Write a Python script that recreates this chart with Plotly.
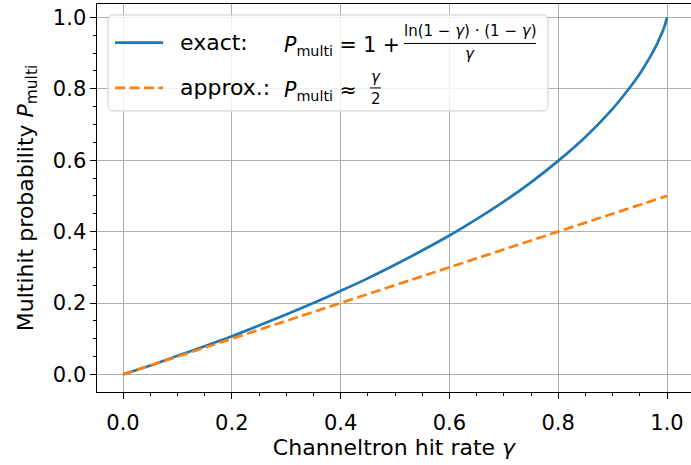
import plotly.graph_objects as go

# Data
gamma_exact = [0.0, 0.05, 0.1, 0.15, 0.2, 0.25, 0.3, 0.35, 0.4, 0.45, 0.5, 0.55, 0.6,
               0.65, 0.7, 0.75, 0.8, 0.85, 0.9, 0.93, 0.95, 0.97, 0.98, 0.99, 0.995, 1.0]
p_exact = [0.0, 0.025, 0.052, 0.079, 0.107, 0.137, 0.168, 0.200, 0.234, 0.269, 0.307, 0.347, 0.389,
           0.435, 0.484, 0.538, 0.598, 0.665, 0.744, 0.800, 0.842, 0.892, 0.920, 0.954, 0.973, 1.0]
gamma_approx = [0.0, 0.2, 0.4, 0.6, 0.8, 1.0]
p_approx = [0.0, 0.1, 0.2, 0.3, 0.4, 0.5]
tick_vals = [0.0, 0.2, 0.4, 0.6, 0.8, 1.0]
tick_text = ["0.0", "0.2", "0.4", "0.6", "0.8", "1.0"]

BLUE = "#1f77b4"
ORANGE = "#ff7f0e"
FONT = "DejaVu Sans"
FS = 21
FT = 22

W, H = 691, 465
L, R, T, B = 97, 691, 4, 392.3


def px(x):
    return (x - L) / (R - L)


def py(y):
    return (B - y) / (B - T)


fig = go.Figure()
fig.add_trace(go.Scatter(x=gamma_exact, y=p_exact, mode="lines", line_shape="spline",
                         line=dict(color=BLUE, width=2.7), showlegend=False))
fig.add_trace(go.Scatter(x=gamma_approx, y=p_approx, mode="lines",
                         line=dict(color=ORANGE, width=2.7, dash="10px,4.5px"), showlegend=False))

x0, xs = 123, 544
y0, ys = 374.7, 357.3

axis_common = dict(
    showline=True, linecolor="black", linewidth=1.1,
    ticks="outside", ticklen=5.5, tickwidth=1.1, tickcolor="black",
    showgrid=True, gridcolor="#b0b0b0", gridwidth=1,
    zeroline=False, tickvals=tick_vals, ticktext=tick_text,
    tickfont=dict(family=FONT, size=FS, color="black"),
    minor=dict(dtick=0.05, ticks="outside", ticklen=3, tickwidth=0.9, tickcolor="black", showgrid=False),
)

fig.update_layout(
    width=W, height=H,
    margin=dict(l=L, r=W - R, t=T, b=H - B),
    plot_bgcolor="white", paper_bgcolor="white",
    font=dict(family=FONT, size=FS, color="black"),
    xaxis=dict(range=[(L - x0) / xs, (R - x0) / xs], mirror=True, ticklabelstandoff=6,
               title=dict(text="Channeltron hit rate <i>γ</i>", standoff=5,
                          font=dict(family=FONT, size=FT)),
               **axis_common),
    yaxis=dict(range=[(y0 - B) / ys, (y0 - T) / ys],
               title=dict(text="Multihit probability <i>P</i><sub>multi</sub>", standoff=13,
                          font=dict(family=FONT, size=FT)),
               **axis_common),
)

# Legend box (rounded corners)
bx0, bx1, by0, by1, rr = 108, 548, 15, 111, 5


def P(x, y):
    return f"{px(x):.5f},{py(y):.5f}"


path = (f"M {P(bx0 + rr, by0)} L {P(bx1 - rr, by0)} Q {P(bx1, by0)} {P(bx1, by0 + rr)} "
        f"L {P(bx1, by1 - rr)} Q {P(bx1, by1)} {P(bx1 - rr, by1)} "
        f"L {P(bx0 + rr, by1)} Q {P(bx0, by1)} {P(bx0, by1 - rr)} "
        f"L {P(bx0, by0 + rr)} Q {P(bx0, by0)} {P(bx0 + rr, by0)} Z")
fig.add_shape(type="path", xref="paper", yref="paper", path=path,
              fillcolor="rgba(255,255,255,0.8)", line=dict(color="#cccccc", width=1), layer="above")
fig.add_shape(type="line", xref="paper", yref="paper",
              x0=px(115), x1=px(163), y0=py(42.7), y1=py(42.7),
              line=dict(color=BLUE, width=2.7), layer="above")
fig.add_shape(type="line", xref="paper", yref="paper",
              x0=px(115), x1=px(163), y0=py(88), y1=py(88),
              line=dict(color=ORANGE, width=2.7, dash="10px,4.5px"), layer="above")
# fraction bars
fig.add_shape(type="line", xref="paper", yref="paper",
              x0=px(404), x1=px(536), y0=py(43.5), y1=py(43.5),
              line=dict(color="black", width=1), layer="above")
fig.add_shape(type="line", xref="paper", yref="paper",
              x0=px(370), x1=px(381), y0=py(88), y1=py(88),
              line=dict(color="black", width=1), layer="above")


def ann(x, y, text, size=FT, anchor="left"):
    fig.add_annotation(xref="paper", yref="paper", x=px(x), y=py(y), text=text,
                       showarrow=False, xanchor=anchor, yanchor="middle",
                       borderpad=0, font=dict(family=FONT, size=size, color="black"))


ann(179, 43, "exact:")
ann(283, 46, "<i>P</i><sub>multi</sub> = 1 +", size=20.5)
ann(470, 31, "ln(1 − <i>γ</i>) · (1 − <i>γ</i>)", size=15, anchor="center")
ann(470, 54, "<i>γ</i>", size=15, anchor="center")
ann(179, 88, "approx.:")
ann(283, 91, "<i>P</i><sub>multi</sub> ≈", size=20.5)
ann(375.5, 77, "<i>γ</i>", size=15, anchor="center")
ann(375.5, 99, "2", size=15, anchor="center")

fig.write_html("out.html", config={"displayModeBar": False},
               post_script="document.body.style.margin='0';")
